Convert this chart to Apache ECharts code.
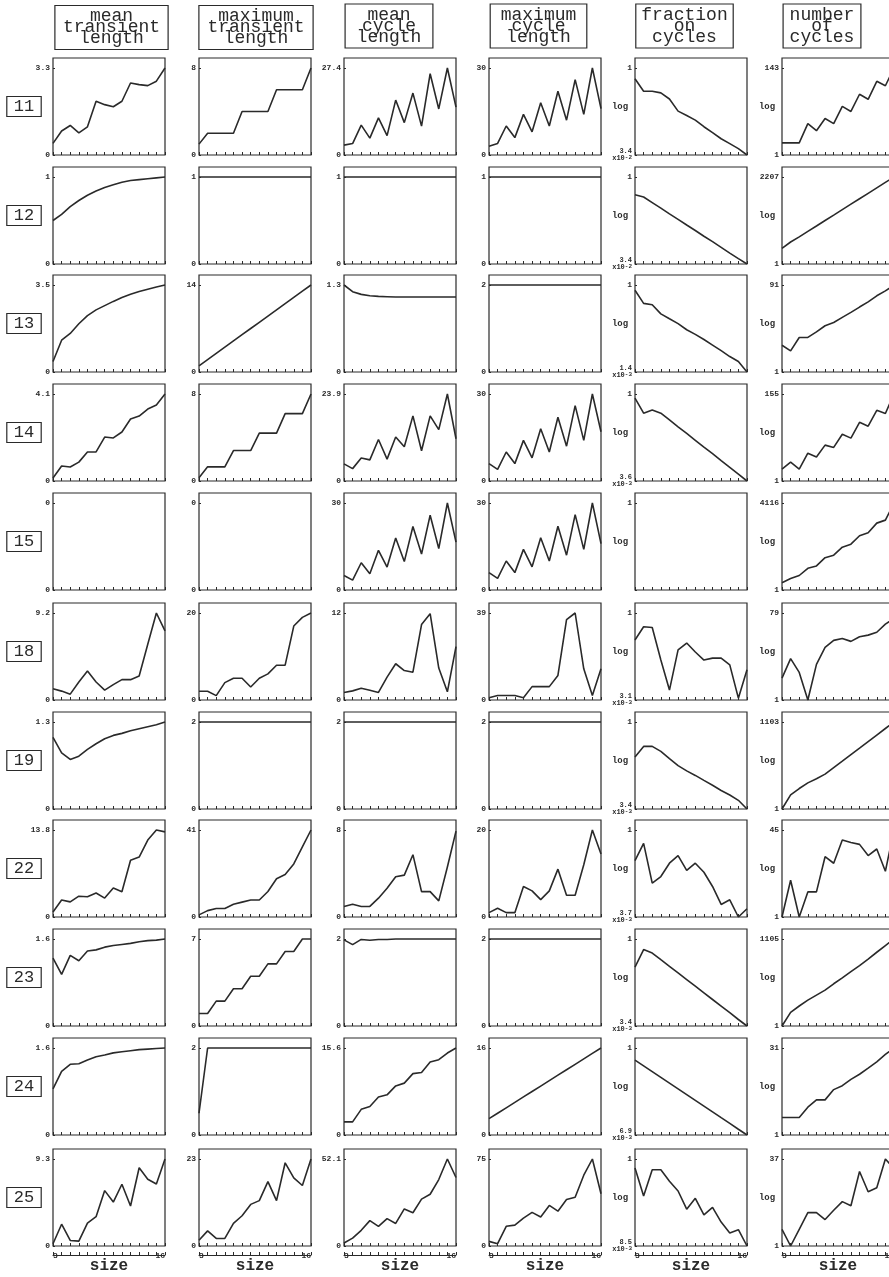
<!DOCTYPE html>
<html>
<head>
<meta charset="utf-8">
<script src="https://cdn.jsdelivr.net/npm/echarts@6/dist/echarts.min.js"></script>
<style>
html, body { margin: 0; padding: 0; background: #fff; }
#chart { width: 889px; height: 1277px; }
</style>
</head>
<body>
<div id="chart"></div>
<script>
// x: automaton size, one point per size
var sizes = [3, 4, 5, 6, 7, 8, 9, 10, 11, 12, 13, 14, 15, 16];
var rules = ['11', '12', '13', '14', '15', '18', '19', '22', '23', '24', '25'];

// one list per column, one row per rule (same order as rules)
var meanTransient = [
    [0.44, 0.91, 1.12, 0.84, 1.07, 2.04, 1.91, 1.83, 2.04, 2.73, 2.67, 2.63, 2.8, 3.3],
    [0.5, 0.57, 0.66, 0.73, 0.79, 0.84, 0.88, 0.91, 0.94, 0.96, 0.97, 0.98, 0.99, 1],
    [0.42, 1.28, 1.55, 1.94, 2.27, 2.5, 2.67, 2.84, 3.0, 3.13, 3.24, 3.33, 3.42, 3.5],
    [0.14, 0.71, 0.66, 0.89, 1.37, 1.37, 2.07, 2.03, 2.31, 2.92, 3.06, 3.39, 3.58, 4.1],
    [],
    [1.2, 0.94, 0.62, 1.9, 3.06, 1.9, 1.04, 1.63, 2.15, 2.15, 2.53, 5.9, 9.2, 7.3],
    [1.07, 0.84, 0.74, 0.79, 0.89, 0.975, 1.05, 1.1, 1.13, 1.17, 1.2, 1.23, 1.26, 1.3],
    [0.8, 2.7, 2.4, 3.3, 3.2, 3.8, 3.0, 4.6, 4.0, 9.0, 9.5, 12.2, 13.8, 13.5],
    [1.25, 0.95, 1.3, 1.2, 1.38, 1.4, 1.45, 1.48, 1.5, 1.52, 1.55, 1.57, 1.58, 1.6],
    [0.85, 1.17, 1.3, 1.31, 1.38, 1.44, 1.47, 1.51, 1.53, 1.55, 1.57, 1.58, 1.59, 1.6],
    [0.24, 2.33, 0.59, 0.52, 2.44, 3.13, 5.92, 4.7, 6.6, 4.28, 8.36, 7.14, 6.62, 9.3]
];
var maxTransient = [
    [1, 2, 2, 2, 2, 4, 4, 4, 4, 6, 6, 6, 6, 8],
    [1, 1, 1, 1, 1, 1, 1, 1, 1, 1, 1, 1, 1, 1],
    [1, 2, 3, 4, 5, 6, 7, 8, 9, 10, 11, 12, 13, 14],
    [0.3, 1.3, 1.3, 1.3, 2.8, 2.8, 2.8, 4.4, 4.4, 4.4, 6.2, 6.2, 6.2, 8],
    [],
    [2, 2, 1, 4, 5, 5, 3, 5, 6, 8, 8, 17, 19, 20],
    [2, 2, 2, 2, 2, 2, 2, 2, 2, 2, 2, 2, 2, 2],
    [1, 3, 4, 4, 6, 7, 8, 8, 12, 18, 20, 25, 33, 41],
    [1, 1, 2, 2, 3, 3, 4, 4, 5, 5, 6, 6, 7, 7],
    [0.5, 2, 2, 2, 2, 2, 2, 2, 2, 2, 2, 2, 2, 2],
    [1.5, 4, 2, 2, 6, 8, 11, 12, 17, 12, 22, 18, 16, 23]
];
var meanCycle = [
    [3.1, 3.6, 9.4, 5.3, 11.7, 6.1, 17.3, 10.2, 19.5, 9.1, 25.6, 14.5, 27.4, 15.1],
    [1, 1, 1, 1, 1, 1, 1, 1, 1, 1, 1, 1, 1, 1],
    [1.3, 1.2, 1.16, 1.14, 1.13, 1.125, 1.12, 1.12, 1.12, 1.12, 1.12, 1.12, 1.12, 1.12],
    [4.7, 3.4, 6.3, 5.8, 11.4, 6.0, 12.1, 9.4, 17.9, 8.3, 17.9, 14.1, 23.9, 11.6],
    [5, 3.4, 9.4, 5.6, 13.7, 7.9, 17.9, 9.8, 21.9, 12.4, 25.8, 14.3, 30, 16.5],
    [1.04, 1.26, 1.62, 1.35, 1.04, 3.16, 5.0, 4.06, 3.83, 10.4, 11.9, 4.4, 1.13, 7.35],
    [2, 2, 2, 2, 2, 2, 2, 2, 2, 2, 2, 2, 2, 2],
    [0.97, 1.18, 0.97, 0.97, 1.73, 2.64, 3.7, 3.85, 5.73, 2.33, 2.33, 1.48, 4.6, 7.9],
    [1.98, 1.87, 1.99, 1.97, 1.99, 1.99, 2, 2, 2, 2, 2, 2, 2, 2],
    [2.35, 2.35, 4.6, 5.1, 6.8, 7.2, 8.8, 9.3, 11.0, 11.2, 13.1, 13.5, 14.7, 15.6],
    [1.8, 4.7, 9.4, 15.2, 11.7, 16.4, 13.5, 22.2, 19.9, 28.1, 31, 39.8, 52.1, 41]
];
var maxCycle = [
    [3, 4, 10, 6, 14, 8, 18, 10, 22, 12, 26, 14, 30, 16],
    [1, 1, 1, 1, 1, 1, 1, 1, 1, 1, 1, 1, 1, 1],
    [2, 2, 2, 2, 2, 2, 2, 2, 2, 2, 2, 2, 2, 2],
    [6, 4, 10, 6, 14, 8, 18, 10, 22, 12, 26, 14, 30, 17],
    [6, 4, 10, 6, 14, 8, 18, 10, 22, 12, 26, 14, 30, 16],
    [1, 2, 2, 2, 1, 6, 6, 6, 11, 36, 39, 14, 2, 14],
    [2, 2, 2, 2, 2, 2, 2, 2, 2, 2, 2, 2, 2, 2],
    [1, 2, 1, 1, 7, 6, 4, 6, 11, 5, 5, 12, 20, 14.5],
    [2, 2, 2, 2, 2, 2, 2, 2, 2, 2, 2, 2, 2, 2],
    [3, 4, 5, 6, 7, 8, 9, 10, 11, 12, 13, 14, 15, 16],
    [4, 2, 17, 18, 24, 29, 25, 35, 30, 40, 42, 61, 75, 45]
];
var fractionOnCycles = [
    [0.66, 0.405, 0.405, 0.38, 0.30, 0.187, 0.158, 0.132, 0.102, 0.081, 0.064, 0.053, 0.0435, 0.034],
    [0.5, 0.459, 0.37, 0.298, 0.239, 0.193, 0.155, 0.125, 0.1, 0.081, 0.065, 0.052, 0.042, 0.034],
    [0.67, 0.25, 0.226, 0.113, 0.078, 0.054, 0.034, 0.024, 0.0163, 0.0107, 0.007, 0.0045, 0.0031, 0.0014],
    [0.77, 0.29, 0.355, 0.29, 0.187, 0.12, 0.078, 0.05, 0.032, 0.021, 0.0134, 0.0087, 0.0056, 0.0036],
    [],
    [0.167, 0.4, 0.38, 0.044, 0.006, 0.086, 0.136, 0.075, 0.044, 0.05, 0.05, 0.032, 0.0035, 0.023],
    [0.102, 0.203, 0.203, 0.147, 0.092, 0.058, 0.041, 0.0305, 0.0221, 0.0161, 0.0114, 0.0085, 0.006, 0.0034],
    [0.14, 0.425, 0.0327, 0.05, 0.118, 0.193, 0.074, 0.118, 0.066, 0.0264, 0.0083, 0.0112, 0.0037, 0.0063],
    [0.16, 0.5, 0.4, 0.258, 0.168, 0.109, 0.0705, 0.0457, 0.0296, 0.0192, 0.0125, 0.0081, 0.0052, 0.0034],
    [0.5, 0.36, 0.259, 0.186, 0.134, 0.0966, 0.0695, 0.05, 0.036, 0.0259, 0.0186, 0.0134, 0.0096, 0.0069],
    [0.61, 0.132, 0.553, 0.553, 0.295, 0.173, 0.064, 0.116, 0.0467, 0.0705, 0.0315, 0.0174, 0.0208, 0.0085]
];
var numberOfCycles = [
    [2, 2, 2, 6, 4, 8, 6, 16, 12, 32, 24, 67, 52, 143],
    [4, 7, 11, 18, 29, 47, 76, 123, 199, 322, 521, 843, 1364, 2207],
    [4, 3, 6, 6, 8, 11, 13, 17, 22, 29, 38, 52, 67, 91],
    [2, 3, 2, 5, 4, 8, 7, 15, 12, 30, 24, 60, 50, 155],
    [2, 3, 4, 8, 10, 22, 28, 60, 80, 180, 240, 600, 800, 4116],
    [3, 8, 4, 1, 6, 14, 20, 22, 19, 24, 26, 30, 45, 60],
    [1, 3.1, 5.2, 8.2, 11.5, 16.6, 28, 47, 80, 135, 229, 386, 653, 1103],
    [1, 5, 1, 3, 3, 14, 10.5, 29, 26, 24, 14.7, 19.6, 7.4, 45],
    [1, 3, 5, 8, 12, 18, 30, 48, 80, 130, 220, 380, 650, 1105],
    [2, 2, 2, 3, 4, 4, 6, 7, 9, 11, 14, 18, 24, 31],
    [2, 1, 2, 4, 4, 3, 4.4, 6.3, 5.3, 22, 9.5, 11.2, 37, 25]
];

// axis end labels printed on each panel
var meanTransientTop = [3.3, 1, 3.5, 4.1, 0, 9.2, 1.3, 13.8, 1.6, 1.6, 9.3];
var maxTransientTop = [8, 1, 14, 8, 0, 20, 2, 41, 7, 2, 23];
var meanCycleTop = [27.4, 1, 1.3, 23.9, 30, 12, 2, 8, 2, 15.6, 52.1];
var maxCycleTop = [30, 1, 2, 30, 30, 39, 2, 20, 2, 16, 75];
var fractionTop = [1, 1, 1, 1, 1, 1, 1, 1, 1, 1, 1];
var fractionBottom = [[3.4, -2], [3.4, -2], [1.4, -3], [3.6, -3], null, [3.1, -3], [3.4, -3], [3.7, -3], [3.4, -3], [6.9, -3], [8.5, -3]];
var cyclesTop = [143, 2207, 91, 155, 4116, 79, 1103, 45, 1105, 31, 37];

var headers = [
    'mean\ntransient\nlength',
    'maximum\ntransient\nlength',
    'mean\ncycle\nlength',
    'maximum\ncycle\nlength',
    'fraction\non\ncycles',
    'number\nof\ncycles'
];

// layout
var colLeft = [53, 199, 344, 489, 635, 782];
var rowTop = [58, 167, 275, 384, 493, 603, 712, 820, 929, 1038, 1149];
var boxW = 112, boxH = 97, pad = 10;
var headerX = [111.5, 256, 389, 538.5, 684.5, 822];
var headerPad = [8, 8.5, 11.5, 10.5, 5.5, 6.5];
var ink = '#2a2a2a';
var mono = '"Liberation Mono", "DejaVu Sans Mono", monospace';

var columns = [
    { data: meanTransient, top: meanTransientTop },
    { data: maxTransient, top: maxTransientTop },
    { data: meanCycle, top: meanCycleTop },
    { data: maxCycle, top: maxCycleTop },
    { data: fractionOnCycles, top: fractionTop, bottom: fractionBottom, log: true },
    { data: numberOfCycles, top: cyclesTop, log: true }
];

var grids = [], xAxes = [], yAxes = [], series = [], graphics = [];
var labelStyle = { fontFamily: mono, fontSize: 8, fontWeight: 'bold', color: ink };

columns.forEach(function (col, c) {
    rules.forEach(function (rule, r) {
        var k = grids.length;
        grids.push({
            left: colLeft[c], top: rowTop[r], width: boxW, height: boxH,
            show: true, borderColor: ink, borderWidth: 1.2, backgroundColor: 'transparent',
            containLabel: false, outerBoundsMode: 'none'
        });
        var xIdx = xAxes.length;
        xAxes.push({
            type: 'category', gridIndex: k, data: sizes, boundaryGap: false,
            axisLine: { show: false },
            axisTick: { show: true, inside: true, length: 3, interval: 0, lineStyle: { color: ink, width: 1 } },
            axisLabel: { show: false },
            splitLine: { show: false }
        });
        if (r === rules.length - 1) {
            xAxes.push({
                type: 'category', gridIndex: k, data: sizes, boundaryGap: false,
                position: 'bottom', offset: 9,
                axisLine: { show: true, lineStyle: { color: ink, width: 1 } },
                axisTick: { show: true, inside: true, length: 3, interval: 0, lineStyle: { color: ink } },
                axisLabel: {
                    interval: function (i) { return i === 0 || i === sizes.length - 1; },
                    margin: -3, fontFamily: mono, fontSize: 8, fontWeight: 'bold', color: ink,
                    alignMinLabel: 'left', alignMaxLabel: 'right'
                },
                splitLine: { show: false },
                name: 'size', nameLocation: 'middle', nameGap: 3, nameMoveOverlap: false,
                nameTextStyle: { fontFamily: mono, fontSize: 16, fontWeight: 'bold', color: ink, verticalAlign: 'top' }
            });
        }
        var t = col.top[r];
        var yAxis;
        if (!col.log) {
            var step = t || 1;
            yAxis = {
                type: 'value', gridIndex: k, min: 0, max: step * boxH / (boxH - pad), interval: step,
                axisLine: { show: false }, splitLine: { show: false },
                axisTick: { show: true, inside: true, length: 2, lineStyle: { color: ink } },
                axisLabel: Object.assign({
                    margin: 3, showMaxLabel: false,
                    formatter: function (v) { return v === 0 ? '0' : String(t); }
                }, labelStyle)
            };
        } else {
            var b = col.bottom ? col.bottom[r] : [1, 0];
            var bVal = b ? b[0] * Math.pow(10, b[1]) : 0.01;
            var lt = Math.log10(t), lb = Math.log10(bVal);
            var lmax = lt + (lt - lb) * pad / (boxH - pad);
            yAxis = {
                type: 'log', logBase: 10, gridIndex: k, min: bVal, max: Math.pow(10, lmax), interval: lt - lb,
                axisLine: { show: false }, splitLine: { show: false }, minorTick: { show: false },
                axisTick: { show: true, inside: true, length: 2, lineStyle: { color: ink } },
                name: 'log', nameLocation: 'middle', nameRotate: 0, nameGap: 15, nameMoveOverlap: false,
                nameTextStyle: { fontFamily: mono, fontSize: 9, fontWeight: 'bold', color: ink, align: 'center', verticalAlign: 'middle' },
                axisLabel: Object.assign({
                    margin: 3, showMaxLabel: false,
                    formatter: function (v) {
                        var lv = Math.log10(v);
                        if (Math.abs(lv - lt) < 0.01) return String(t);
                        if (Math.abs(lv - lb) < 0.01 && b) {
                            if (!col.bottom) return String(b[0]);
                            return '{m|' + b[0] + '}\n{e|x10}{s|' + b[1] + '}';
                        }
                        return '';
                    },
                    rich: {
                        m: { fontFamily: mono, fontSize: 7, fontWeight: 'bold', color: ink, lineHeight: 7, align: 'right' },
                        e: { fontFamily: mono, fontSize: 7, fontWeight: 'bold', color: ink, lineHeight: 8 },
                        s: { fontFamily: mono, fontSize: 6, fontWeight: 'bold', color: ink, lineHeight: 8, verticalAlign: 'top' }
                    }
                }, labelStyle)
            };
        }
        yAxes.push(yAxis);
        series.push({
            type: 'line', xAxisIndex: xIdx, yAxisIndex: k, data: col.data[r],
            symbol: 'none', silent: true,
            lineStyle: { color: ink, width: 1.6 }
        });
    });
});

headers.forEach(function (h, c) {
    graphics.push({
        type: 'text', x: headerX[c], y: c < 2 ? 27.5 : 26,
        style: {
            text: h, align: 'center', verticalAlign: 'middle',
            font: '18px ' + mono, lineHeight: 11, fill: ink,
            borderColor: ink, borderWidth: 1.2, padding: [6, headerPad[c], 5, headerPad[c]]
        }
    });
});
rules.forEach(function (rule, r) {
    graphics.push({
        type: 'text', x: 24, y: rowTop[r] + boxH / 2,
        style: {
            text: rule, align: 'center', verticalAlign: 'middle',
            font: '17px ' + mono, fill: ink,
            borderColor: ink, borderWidth: 1.2, padding: [2, 7, 1, 7]
        }
    });
});

var chart = echarts.init(document.getElementById('chart'));
chart.setOption({
    backgroundColor: '#fff',
    animation: false,
    grid: grids,
    xAxis: xAxes,
    yAxis: yAxes,
    series: series,
    graphic: graphics
});
</script>
</body>
</html>
